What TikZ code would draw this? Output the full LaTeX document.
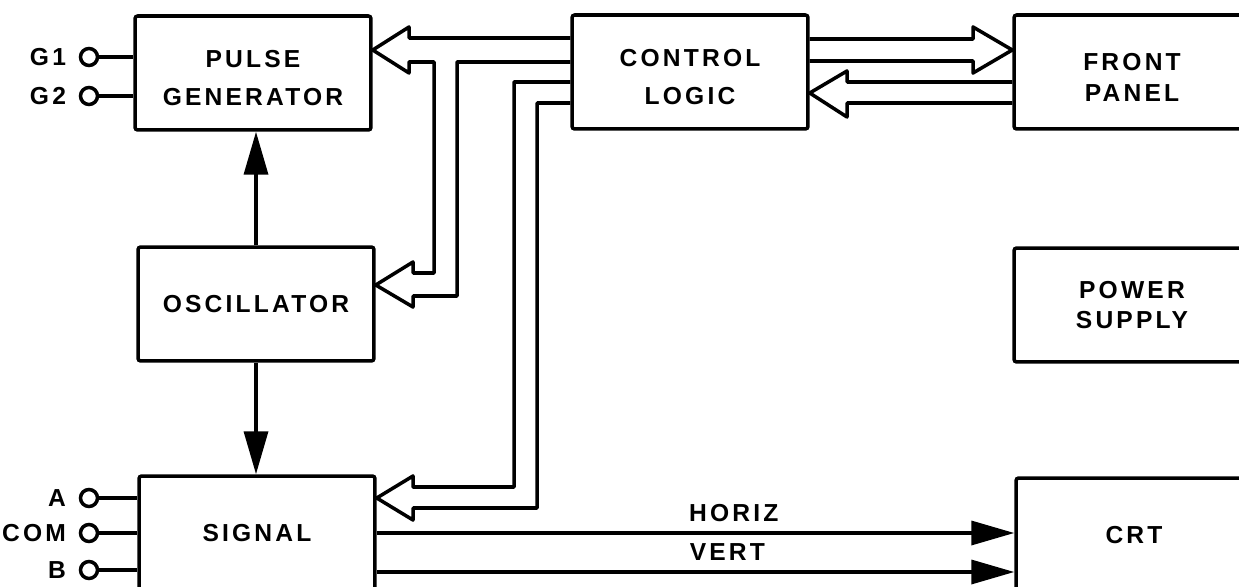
\documentclass[tikz,border=0pt]{standalone}
\usepackage{fontspec}
\setmainfont{Liberation Sans}[LetterSpace=13]
\usetikzlibrary{positioning,arrows.meta,calc}
\newcommand\lowstrut{\rule{0pt}{16pt}}
\tikzset{
  blk/.style={draw, rounded corners=1.5pt, minimum width=4.72cm, minimum height=2.28cm,
              align=center, font=\fontsize{14}{21.6}\selectfont\bfseries},
  tight/.style={font=\fontsize{14}{17.6}\selectfont\bfseries},
  term/.style={draw, circle, minimum size=0.34cm, inner sep=0pt},
  lbl/.style={inner sep=0pt, font=\fontsize{14}{16}\selectfont\bfseries},
  bus/.style={line join=round},
  feed/.style={-{Triangle[length=0.86cm,width=0.48cm]}},
}
\begin{document}
\begin{tikzpicture}[x=0.02cm, y=-0.02cm, line width=2pt]
\useasboundingbox (0,0) rectangle (1239,587);
\clip (0,0) rectangle (1239,587);

% blocks
\node[blk] (pg) at (253,73) {\lowstrut PULSE\\GENERATOR};
\node[blk] (osc) at (256,304) {OSCILLATOR};
\node[blk] (sgl) at (257,533) {SIGNAL};
\node[blk] (cl) at (690,72) {\lowstrut CONTROL\\LOGIC};
\node[blk, tight] (fp) at (1132,72) {\lowstrut FRONT\\PANEL};
\node[blk, tight] (ps) at (1132,305) {POWER\\SUPPLY};
\node[blk] (crt) at (1134,535) {CRT};

% input terminals
\node[term] (g1) at (89,57) {};
\node[term] (g2) at (89,96) {};
\node[term] (ta) at (89,498) {};
\node[term] (tcom) at (89,533) {};
\node[term] (tb) at (89,570) {};
\node[lbl, left=0.22cm of g1] (g1lbl) {G1};
\node[lbl, left=0.22cm of g2] (g2lbl) {G2};
\node[lbl, left=0.22cm of ta] (albl) {A};
\node[lbl, left=0.22cm of tcom] (comlbl) {COM};
\node[lbl, left=0.22cm of tb] (blbl) {B};
\draw (g1) -- (g1 -| pg.west);
\draw (g2) -- (g2 -| pg.west);
\draw (ta) -- (ta -| sgl.west);
\draw (tcom) -- (tcom -| sgl.west);
\draw (tb) -- (tb -| sgl.west);

% buses out of the control logic
\draw[bus] (cl.west |- 0,38) -- (409,38) -- (409,27) -- (pg.east |- 0,50)
  -- (409,73) -- (409,62) -- (434,62) -- (434,273) -- (413,273) -- (413,262)
  -- (osc.east |- 0,285) -- (413,307) -- (413,296) -- (457,296) -- (457,62)
  -- (cl.west |- 0,62);
\draw[bus] (cl.west |- 0,82) -- (514,82) -- (514,487) -- (413,487) -- (413,476)
  -- (sgl.east |- 0,498) -- (413,520) -- (413,508) -- (537,508) -- (537,103)
  -- (cl.west |- 0,103);
\draw[bus] (cl.east |- 0,39) -- (973,39) -- (973,27) -- (fp.west |- 0,50)
  -- (973,73) -- (973,61) -- (cl.east |- 0,61);
\draw[bus] (fp.west |- 0,82) -- (847,82) -- (847,71) -- (cl.east |- 0,93)
  -- (847,117) -- (847,103) -- (fp.west |- 0,103);

% single lines
\draw[feed] (osc.north) -- (osc.north |- pg.south);
\draw[feed] (osc.south) -- (osc.south |- sgl.north);
\draw[feed] (sgl.east |- 0,533) -- node[lbl, pos=.56, above=0.2cm] (horiz) {HORIZ} (crt.west |- 0,533);
\draw[feed] (sgl.east |- 0,572) -- node[lbl, pos=.55, above=0.2cm] (vert) {VERT} (crt.west |- 0,572);
\end{tikzpicture}
\end{document}
